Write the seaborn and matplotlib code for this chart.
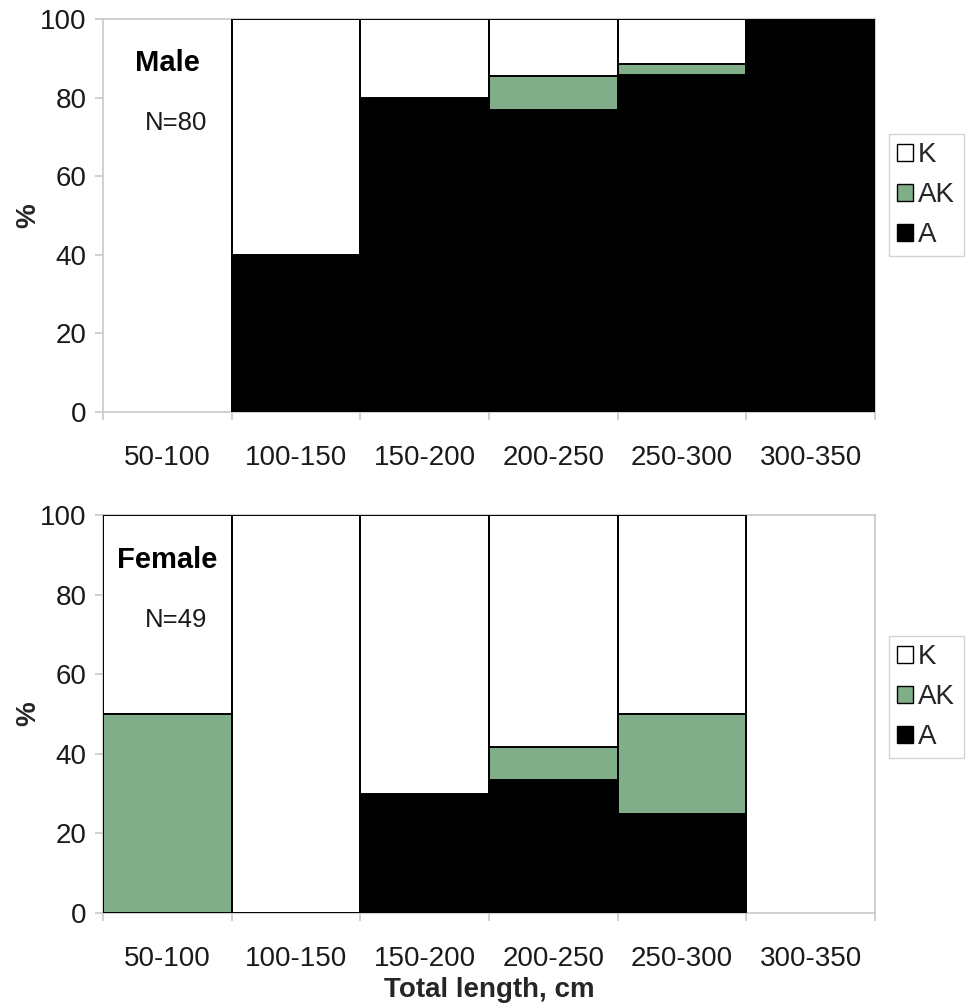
import numpy as np
import pandas as pd
import matplotlib
matplotlib.use('Agg')
import matplotlib.pyplot as plt
import matplotlib.patches as mpatches
import seaborn as sns

# data (percent per length class)
bins = ['50-100', '100-150', '150-200', '200-250', '250-300', '300-350']
male_A = [0, 40, 80, 76.9, 85.7, 100]
male_AK = [0, 0, 0, 8.6, 2.9, 0]
male_K = [0, 60, 20, 14.5, 11.4, 0]
female_A = [0, 0, 30, 33.3, 25, 0]
female_AK = [50, 0, 0, 8.3, 25, 0]
female_K = [50, 100, 70, 58.4, 50, 0]

warna = {'K': 'white', 'AK': '#80ae88', 'A': 'black'}
abu = '#c8c8c8'

sns.set_style('white')
plt.rcParams['font.family'] = ['Liberation Sans', 'DejaVu Sans']

fig = plt.figure(figsize=(9.67, 10.06), dpi=100)
ax1 = fig.add_axes([103/967, 1-412/1006, 772/967, 393/1006])
ax2 = fig.add_axes([103/967, 1-913/1006, 772/967, 398/1006])


def gambar_panel(ax, A, AK, K, judul, n_teks, legend_y):
    df = pd.DataFrame({'bin': bins, 'A': A, 'AK': AK, 'K': K})
    df['top_A'] = df['A']
    df['top_AK'] = df['A'] + df['AK']
    df['top_K'] = df['A'] + df['AK'] + df['K']
    # layer paling atas dulu, lalu ditimpa
    for seg in ['K', 'AK', 'A']:
        sub = df[df[seg] > 0]
        sns.barplot(data=sub, x='bin', y='top_' + seg, order=bins, ax=ax,
                    color=warna[seg], saturation=1, width=1.0, errorbar=None,
                    edgecolor='black', linewidth=1.4)
    ax.set_xlim(-0.5, 5.5)
    ax.set_ylim(0, 100)
    ax.set_yticks(np.arange(0, 101, 20))
    ax.set_xlabel('')
    ax.set_ylabel('%', fontsize=20, fontweight='bold')
    ax.yaxis.set_label_coords(-0.08, 0.5)
    for s in ax.spines.values():
        s.set_visible(True)
        s.set_color(abu)
        s.set_linewidth(1.2)
        s.set_zorder(0.5)
    ax.tick_params(axis='y', which='major', length=6, color=abu, width=1.2,
                   labelsize=20, pad=6, left=True, labelcolor='#1a1a1a')
    ax.tick_params(axis='x', which='major', length=0, labelsize=20, pad=24,
                   labelcolor='#1a1a1a')
    ax.set_xticks(np.arange(-0.5, 6, 1.0), minor=True)
    ax.tick_params(axis='x', which='minor', length=6, color=abu, width=1.2,
                   bottom=True, direction='out')
    ax.text(0.0, 88.8, judul, fontsize=21, fontweight='bold', ha='center', va='center',
            color='black')
    ax.text(0.07, 73.5, n_teks, fontsize=18.5, ha='center', va='center', color='#1a1a1a')
    patches = [mpatches.Patch(facecolor=warna[k], edgecolor='black', linewidth=1.0, label=k)
               for k in ['K', 'AK', 'A']]
    fig.legend(handles=patches, loc='upper left', bbox_to_anchor=(889/967, legend_y),
               frameon=True, fancybox=False, edgecolor=abu, fontsize=20,
               handlelength=0.55, handleheight=0.55, handletextpad=0.2,
               labelspacing=0.5, borderpad=0.3, borderaxespad=0)


gambar_panel(ax1, male_A, male_AK, male_K, 'Male', 'N=80', 1-134/1006)
gambar_panel(ax2, female_A, female_AK, female_K, 'Female', 'N=49', 1-636/1006)
ax2.set_xlabel('Total length, cm', fontsize=20, fontweight='bold')
ax2.xaxis.set_label_coords(0.5, -0.16)

fig.savefig('out.png', dpi=100, facecolor='white')
